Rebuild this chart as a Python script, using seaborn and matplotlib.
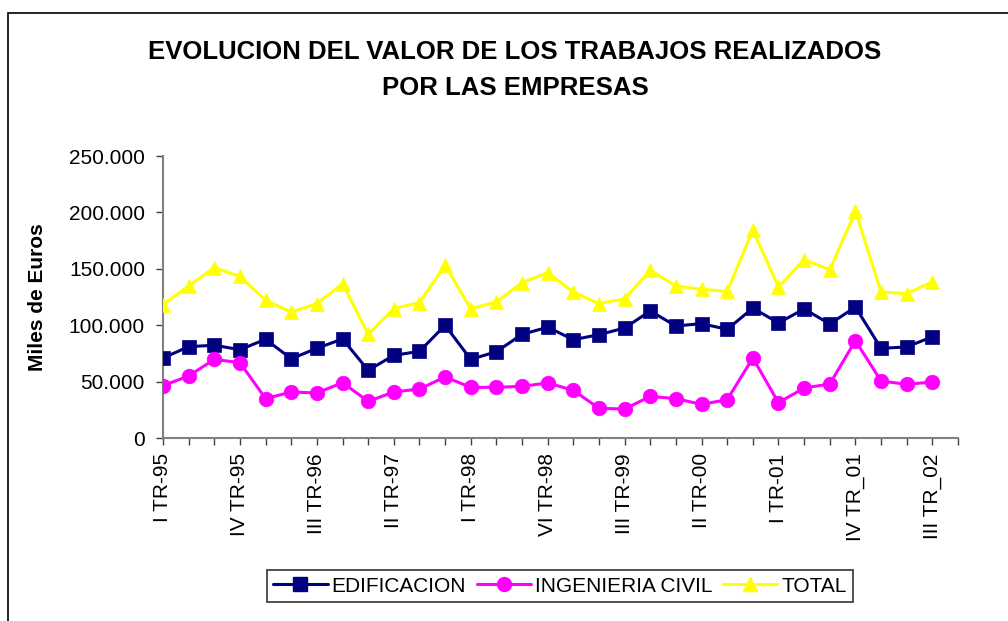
import pandas as pd
import matplotlib
matplotlib.use("Agg")
import matplotlib.pyplot as plt
import seaborn as sns
from matplotlib.lines import Line2D
from matplotlib.patches import Rectangle
from matplotlib.ticker import FuncFormatter, MultipleLocator

# Quarterly values (miles de euros)
quarters = ['I TR-95', 'II TR-95', 'III TR-95', 'IV TR-95',
            'I TR-96', 'II TR-96', 'III TR-96', 'IV TR-96',
            'I TR-97', 'II TR-97', 'III TR-97', 'IV TR-97',
            'I TR-98', 'II TR-98', 'III TR-98', 'VI TR-98',
            'I TR-99', 'II TR-99', 'III TR-99', 'IV TR-99',
            'I TR-00', 'II TR-00', 'III TR-00', 'IV TR-00',
            'I TR-01', 'II TR-01', 'III TR-01', 'IV TR_01',
            'I TR_02', 'II TR_02', 'III TR_02']

edificacion = [70900, 81000, 82200, 78300, 87500, 70300, 79500, 87800,
               60000, 73300, 76800, 99900, 69700, 76500, 91900, 98200,
               87200, 91600, 97500, 112600, 99300, 101400, 96300, 115200,
               102000, 114400, 101100, 116100, 79500, 80700, 89800]

ingenieria = [46400, 55000, 69700, 66800, 34900, 40800, 39900, 49100,
              32500, 40800, 43400, 54100, 44900, 44900, 45800, 48800,
              42300, 26300, 25700, 36900, 34900, 29800, 34000, 70900,
              31300, 44300, 47900, 86300, 50500, 47600, 49600]

total = [118200, 134800, 151000, 143300, 122000, 111700, 119100, 136800,
         91900, 114700, 120000, 153100, 114700, 120600, 137700, 146600,
         129400, 119100, 123500, 148600, 134800, 131800, 130000, 184100,
         133900, 158100, 149200, 201000, 129400, 128000, 138300]

series_names = ['EDIFICACION', 'INGENIERIA CIVIL', 'TOTAL']
colors = {'EDIFICACION': '#000080', 'INGENIERIA CIVIL': '#FF00FF', 'TOTAL': '#FFFF00'}
markers = {'EDIFICACION': 's', 'INGENIERIA CIVIL': 'o', 'TOTAL': '^'}

pos = list(range(len(quarters)))
df = pd.DataFrame({
    'pos': pos * 3,
    'valor': edificacion + ingenieria + total,
    'serie': [s for s in series_names for _ in quarters],
})

sns.set_style('white')
plt.rcParams['font.family'] = ['Liberation Sans', 'DejaVu Sans']
plt.rcParams['text.color'] = 'black'
plt.rcParams['axes.labelcolor'] = 'black'
plt.rcParams['xtick.color'] = 'black'
plt.rcParams['ytick.color'] = 'black'

fig = plt.figure(figsize=(10.08, 6.21), dpi=100)
ax = fig.add_axes([163 / 1008, 183 / 621, 795 / 1008, 282 / 621])

sns.lineplot(data=df, x='pos', y='valor', hue='serie', style='serie',
             hue_order=series_names, style_order=series_names,
             palette=colors, markers=markers, dashes=False, sort=False,
             linewidth=2.2, markersize=10.5, markeredgewidth=0.5,
             legend=False, ax=ax, zorder=3)
for ln in ax.lines:
    ln.set_markeredgecolor(ln.get_color())

ax.set_xlim(0, 31)
ax.set_ylim(0, 250000)
ax.yaxis.set_major_locator(MultipleLocator(50000))
ax.yaxis.set_major_formatter(FuncFormatter(lambda v, p: f"{int(v):,}".replace(',', '.')))

ax.set_xticks(pos[::3])
ax.set_xticklabels(quarters[::3], rotation=90)
ax.set_xticks(range(32), minor=True)
ax.tick_params(axis='x', which='both', direction='out', length=5, width=1,
               color='#404040', labelcolor='black', bottom=True, labelsize=15, pad=6)
ax.tick_params(axis='y', direction='out', length=5, width=1, color='#404040',
               labelcolor='black', left=True, labelsize=15, pad=8)

for side in ['top', 'right']:
    ax.spines[side].set_visible(False)
for side in ['left', 'bottom']:
    ax.spines[side].set_color('#808080')
    ax.spines[side].set_linewidth(1.5)

ax.set_xlabel('')
ax.set_ylabel('Miles de Euros', fontsize=15, fontweight='bold', color='black')
ax.yaxis.set_label_coords(-0.146, 0.5)

fig.text(515 / 1008, 1 - 52 / 621, 'EVOLUCION DEL VALOR DE LOS TRABAJOS REALIZADOS',
         ha='center', va='center', fontsize=18.5, fontweight='bold', color='black')
fig.text(515 / 1008, 1 - 88 / 621, 'POR LAS EMPRESAS',
         ha='center', va='center', fontsize=18.5, fontweight='bold', color='black')

handles = [Line2D([], [], color=colors[s], marker=markers[s], markersize=10,
                  linewidth=2.2, markeredgecolor=colors[s]) for s in series_names]
leg = fig.legend(handles, series_names, loc='center', ncol=3,
                 bbox_to_anchor=(560 / 1008, 35 / 621), fontsize=15,
                 frameon=True, fancybox=False, edgecolor='black',
                 handlelength=2.6, handletextpad=0.2, columnspacing=0.5,
                 borderpad=0.3)
leg.get_frame().set_linewidth(1.2)
for t in leg.get_texts():
    t.set_color('black')

# outer chart border (cut off at right and bottom like the original)
fig.patches.append(Rectangle((8 / 1008, -0.1), 1.2, (621 - 13) / 621 + 0.1,
                             transform=fig.transFigure, fill=False,
                             edgecolor='black', linewidth=1.2))

fig.savefig('out.png', dpi=100)
